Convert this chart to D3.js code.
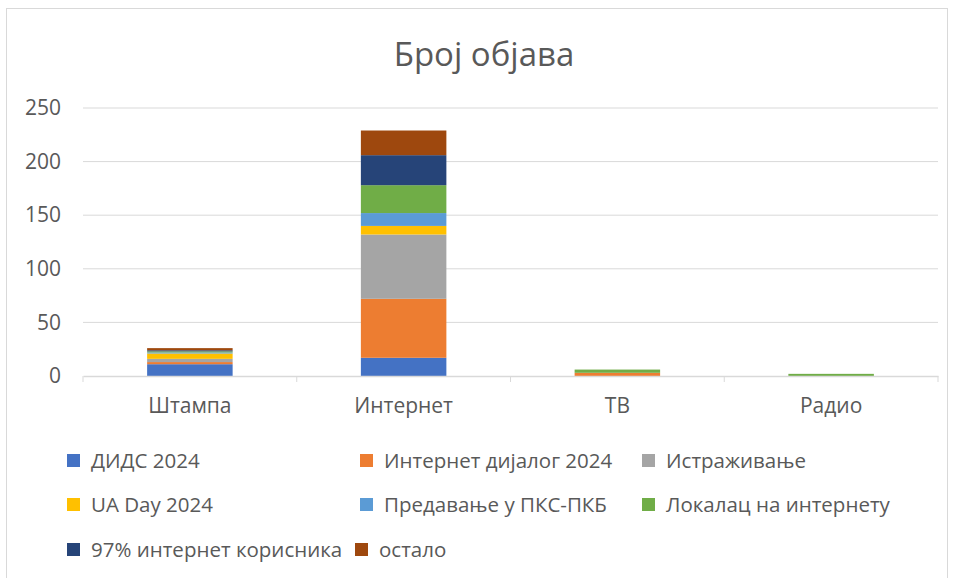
<!DOCTYPE html>
<html>
<head>
<meta charset="utf-8">
<script src="https://cdn.jsdelivr.net/npm/d3@7"></script>
<style>
  body { margin: 0; background: #fff; }
  text { font-family: "Open Sans", "Liberation Sans", sans-serif; fill: #595959; }
</style>
</head>
<body>
<div id="chart"></div>
<script>
// categories and series
const categories = ["Штампа", "Интернет", "ТВ", "Радио"];
const seriesNames = ["ДИДС 2024", "Интернет дијалог 2024", "Истраживање", "UA Day 2024",
  "Предавање у ПКС-ПКБ", "Локалац на интернету", "97% интернет корисника", "остало"];
const didsValues = [11, 17, 0, 0];
const dijalogValues = [2, 55, 3, 0];
const istrazivanjeValues = [3, 60, 0, 0];
const uaDayValues = [5, 8, 0, 0];
const predavanjeValues = [1, 12, 0, 0];
const lokalacValues = [1, 26, 3, 2];
const korisniciValues = [1, 28, 0, 0];
const ostaloValues = [2, 23, 0, 0];
const yTicks = [0, 50, 100, 150, 200, 250];

const colors = ["#4472C4", "#ED7D31", "#A5A5A5", "#FFC000", "#5B9BD5", "#70AD47", "#264478", "#9E480E"];
const allValues = [didsValues, dijalogValues, istrazivanjeValues, uaDayValues,
  predavanjeValues, lokalacValues, korisniciValues, ostaloValues];

// table for the stack
const table = categories.map((c, i) => {
  const row = { category: c };
  seriesNames.forEach((s, j) => { row[s] = allValues[j][i]; });
  return row;
});

const W = 954, H = 578;
const margin = { top: 108, right: 16, bottom: 202, left: 83 },
    width = W - margin.left - margin.right,
    height = H - margin.top - margin.bottom;

const root = d3.select("#chart")
    .append("svg")
    .attr("width", W)
    .attr("height", H);

// chart frame
root.append("rect")
    .attr("x", 6.5).attr("y", 8.5)
    .attr("width", 941).attr("height", 580)
    .attr("fill", "none")
    .attr("stroke", "#d9d9d9");

root.append("text")
    .attr("x", W / 2 + 7).attr("y", 66)
    .attr("text-anchor", "middle")
    .style("font-size", "33px")
    .text("Број објава");

const svg = root.append("g")
    .attr("transform", `translate(${margin.left},${margin.top})`);

const x = d3.scaleBand()
    .domain(categories)
    .range([0, width])
    .paddingInner(0.6)
    .paddingOuter(0.3);

const y = d3.scaleLinear()
    .domain([0, 250])
    .range([height, 0]);

// gridlines
svg.selectAll(".grid")
    .data(yTicks.slice(1))
    .join("line")
    .attr("x1", 0).attr("x2", width)
    .attr("y1", d => y(d)).attr("y2", d => y(d))
    .attr("stroke", "#d9d9d9")
    .attr("stroke-width", 1);

// y axis labels
const yAxis = svg.append("g")
    .call(d3.axisLeft(y).tickValues(yTicks).tickSize(0).tickPadding(22));
yAxis.select(".domain").remove();
yAxis.selectAll("text")
    .style("font-size", "21px")
    .style("font-family", "'Open Sans', sans-serif")
    .attr("fill", "#595959");

// stacked bars
const stacked = d3.stack().keys(seriesNames)(table);
svg.selectAll(".layer")
    .data(stacked)
    .join("g")
    .attr("fill", (d, i) => colors[i])
    .selectAll("rect")
    .data(d => d)
    .join("rect")
    .attr("x", d => x(d.data.category))
    .attr("width", x.bandwidth())
    .attr("y", d => y(d[1]))
    .attr("height", d => y(d[0]) - y(d[1]));

// x axis
const step = width / categories.length;
const xAxis = svg.append("g")
    .attr("transform", `translate(0,${height})`)
    .call(d3.axisBottom(x).tickSize(0).tickPadding(22));
xAxis.select(".domain").attr("stroke", "#d9d9d9").attr("stroke-width", 1.5);
xAxis.selectAll("text")
    .style("font-size", "21px")
    .style("font-family", "'Open Sans', sans-serif")
    .attr("fill", "#595959");
svg.selectAll(".divider")
    .data(d3.range(categories.length + 1))
    .join("line")
    .attr("x1", d => d * step).attr("x2", d => d * step)
    .attr("y1", height).attr("y2", height + 6)
    .attr("stroke", "#d9d9d9");

// legend
const legendPos = [
  [67, 461], [360, 461], [642, 461],
  [67, 505], [360, 505], [642, 505],
  [67, 550], [355, 550]
];
const legend = root.selectAll(".legend")
    .data(seriesNames)
    .join("g")
    .attr("transform", (d, i) => `translate(${legendPos[i][0]},${legendPos[i][1]})`);
legend.append("rect")
    .attr("x", 0).attr("y", -7)
    .attr("width", 13).attr("height", 13)
    .attr("fill", (d, i) => colors[i]);
legend.append("text")
    .attr("x", 24).attr("y", 0)
    .attr("dy", "0.35em")
    .style("font-size", "20.5px")
    .text(d => d);
</script>
</body>
</html>
